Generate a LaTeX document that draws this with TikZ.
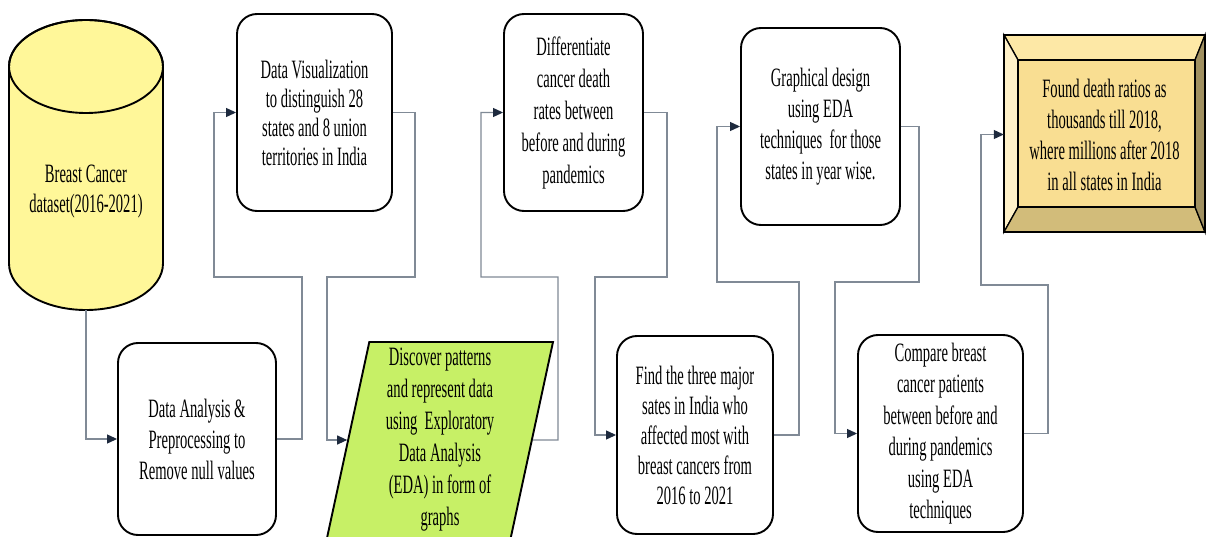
\documentclass[tikz,border=0pt]{standalone}
\usepackage{fontspec}
\setmainfont{Liberation Serif}[FakeStretch=0.55]
\usepackage{tikz}
\usetikzlibrary{shapes.geometric,arrows.meta}

\definecolor{cylfill}{RGB}{255,247,153}
\definecolor{edafill}{RGB}{199,240,102}
\definecolor{linegray}{RGB}{128,138,150}
\definecolor{tipnavy}{RGB}{30,42,62}
\definecolor{bevtop}{RGB}{253,232,166}
\definecolor{bevleft}{RGB}{255,241,200}
\definecolor{bevmid}{RGB}{249,222,146}
\definecolor{bevbot}{RGB}{210,188,122}
\definecolor{bevright}{RGB}{160,144,96}

\begin{document}
\begin{tikzpicture}[x=1pt, y=-1pt,
    lead/.style={font=\fontsize{26.5pt}{#1}\selectfont},
    stepbox/.style={draw, rounded corners=20pt, line width=1.9pt, align=center, inner sep=0pt},
    flow/.style={draw=linegray, line width=1.1pt, -{Triangle[length=10pt,width=9pt,color=tipnavy]}}]
        \fill[white] (0,0) rectangle (1206,537);
        \useasboundingbox (0,0) rectangle (1206,537);

        % Dataset (cylinder)
        \filldraw[fill=cylfill, line width=1.9pt] (9,66.5) -- (9,263.5)
            arc[start angle=180, end angle=360, x radius=77pt, y radius=46.5pt]
            -- (163,66.5) arc[start angle=0, end angle=180, x radius=77pt, y radius=46.5pt] -- cycle;
        \draw[line width=1.9pt] (86,66.5) ellipse[x radius=77pt, y radius=46.5pt];
        \node[minimum width=154pt, minimum height=290pt, inner sep=0pt,
              label={[lead=30pt, align=center, yshift=-27pt]center:{Breast Cancer\\dataset(2016-2021)}}] (data) at (86,165) {};

        % Preprocessing
        \node[stepbox, lead=31pt, minimum width=158pt, minimum height=192pt] (prep) at (197,439)
            {Data Analysis \&\\Preprocessing to\\Remove null values};

        % Visualization
        \node[stepbox, lead=29pt, minimum width=155pt, minimum height=197pt] (visual) at (314.5,112.5)
            {Data Visualization\\to distinguish 28\\states and 8 union\\territories in India};

        % EDA
        \node[trapezium, trapezium left angle=77, trapezium right angle=103, trapezium stretches body,
              draw, line width=1.9pt, fill=edafill, minimum width=226pt, minimum height=196pt,
              align=center, inner sep=0pt, lead=32pt] (eda) at (440,440)
            {Discover patterns\\and represent data\\using~ Exploratory\\Data Analysis\\(EDA) in form of\\graphs};

        % Death rates
        \node[stepbox, lead=32pt, minimum width=139pt, minimum height=197pt] (diff) at (573.5,112.5)
            {Differentiate\\cancer death\\rates between\\before and during\\pandemics};

        % Major states
        \node[stepbox, lead=30pt, minimum width=156pt, minimum height=198pt] (major) at (695,435)
            {Find the three major\\sates in India who\\affected most with\\breast cancers from\\2016 to 2021};

        % Graphical design
        \node[stepbox, lead=31pt, minimum width=159pt, minimum height=197pt] (design) at (820.5,126.5)
            {Graphical design\\using EDA\\techniques~ for those\\states in year wise.};

        % Comparison
        \node[stepbox, lead=31.5pt, minimum width=165pt, minimum height=197pt] (compare) at (940.5,433.5)
            {Compare breast\\cancer patients\\between before and\\during pandemics\\using EDA\\techniques};

        % Result (bevelled box)
        \filldraw[fill=bevtop, line width=1.3pt] (1004,35) -- (1205,35) -- (1195,60) -- (1018,60) -- cycle;
        \filldraw[fill=bevleft, line width=1.3pt] (1004,35) -- (1018,60) -- (1018,207) -- (1004,232) -- cycle;
        \filldraw[fill=bevbot, line width=1.3pt] (1004,232) -- (1018,207) -- (1195,207) -- (1205,232) -- cycle;
        \filldraw[fill=bevright, line width=1.3pt] (1205,35) -- (1205,232) -- (1195,207) -- (1195,60) -- cycle;
        \filldraw[fill=bevmid, line width=1.3pt] (1018,60) rectangle (1195,207);
        \draw[line width=1.9pt] (1004,35) rectangle (1205,232);
        \node[align=center, lead=31pt, minimum width=201pt, minimum height=197pt, inner sep=0pt] (ratio) at (1104.5,134.5)
            {Found death ratios as\\thousands till 2018,\\where millions after 2018\\in all states in India};

        % Connectors
        \draw[flow] (data.south) |- (prep);
        \draw[flow] (prep.east) -- ++(25,0) |- (214,277) |- (visual);
        \draw[flow] (visual.east) -- ++(22,0) |- (327,277) |- (eda);
        \draw[flow] (eda.east) -- (558,440) |- (481,277) |- (diff);
        \draw[flow] (diff.east) -- ++(23,0) |- (595,277) |- (major);
        \draw[flow] (major.east) -- ++(25,0) |- (717,282) |- (design);
        \draw[flow] (design.east) -- ++(18,0) |- (835,282) |- (compare);
        \draw[flow] (compare.east) -- ++(24,0) |- (981,285) |- (ratio);
    \end{tikzpicture}
\end{document}
